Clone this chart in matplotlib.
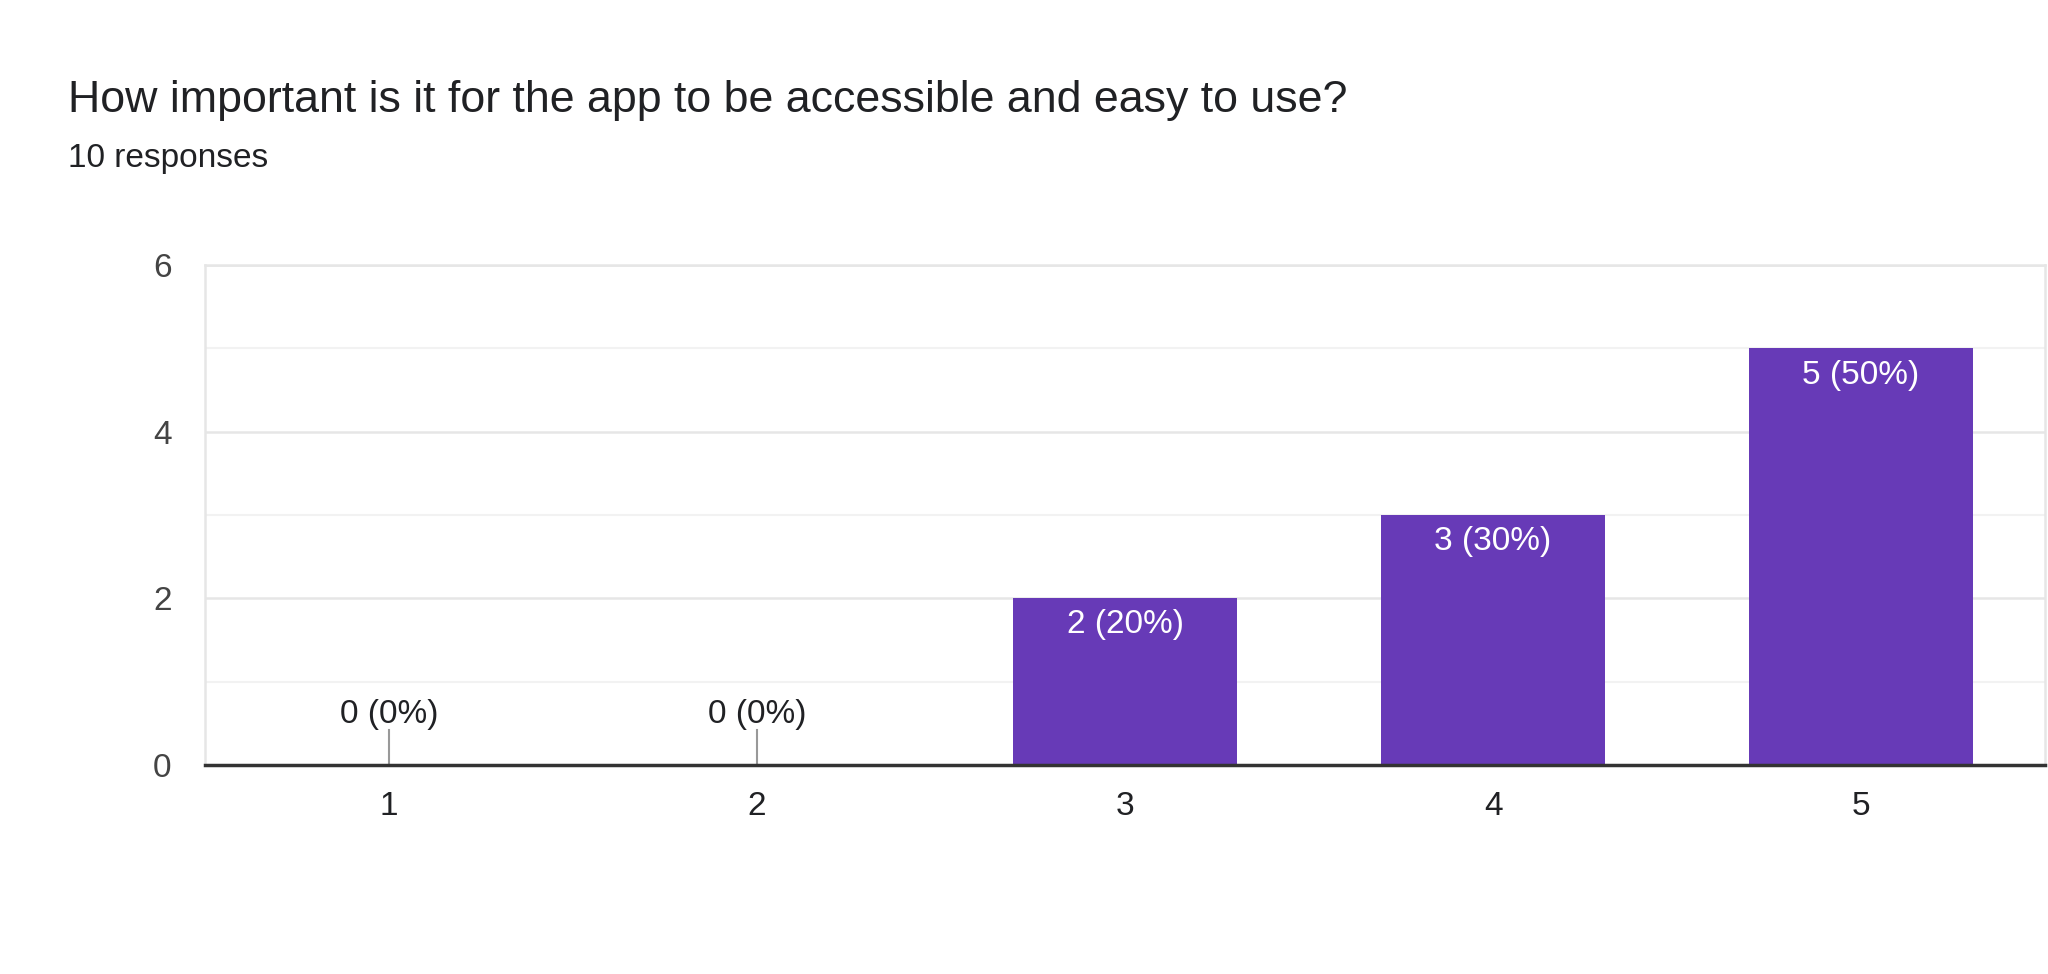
import matplotlib
matplotlib.use("Agg")
import matplotlib.pyplot as plt

plt.rcParams['font.family'] = ['Liberation Sans', 'DejaVu Sans']

title = "How important is it for the app to be accessible and easy to use?"
subtitle = "10 responses"
categories = [1, 2, 3, 4, 5]
counts = [0, 0, 2, 3, 5]
total = 10

bar_color = '#673ab7'

fig = plt.figure(figsize=(20.48, 9.74), dpi=100)
ax = fig.add_axes([0.1001, 0.2146, 0.8985, 0.5133])

fig.text(68 / 2048, 1 - 112 / 974, title, fontsize=32.2, color='#202124', va='baseline')
fig.text(68 / 2048, 1 - 167 / 974, subtitle, fontsize=24, color='#202124', va='baseline')

# grid lines: major every 2, lighter ones in between
for v in [1, 3, 5]:
    ax.axhline(v, color='#f2f2f2', lw=1.5, zorder=0)
for v in [2, 4, 6]:
    ax.axhline(v, color='#e6e6e6', lw=1.8, zorder=0)

ax.bar(categories, counts, width=0.61, color=bar_color, zorder=2)

for x, c in zip(categories, counts):
    label = f"{c} ({round(100 * c / total)}%)"
    if c == 0:
        ax.plot([x, x], [0, 0.42], color='#999999', lw=1.5, zorder=3)
        ax.text(x, 0.6, label, ha='center', va='center', fontsize=24, color='#202124')
    else:
        ax.text(x, c - 0.32, label, ha='center', va='center', fontsize=24, color='white', zorder=4)

ax.set_xlim(0.5, 5.5)
ax.set_ylim(0, 6)
ax.set_yticks([0, 2, 4, 6])
ax.set_xticks(categories)
ax.set_xticklabels([str(c) for c in categories])
ax.tick_params(axis='both', length=0, labelsize=24, colors='#444444')
ax.tick_params(axis='x', pad=19, colors='#202124')
ax.tick_params(axis='y', pad=24)

for side in ['left', 'right', 'top']:
    ax.spines[side].set_color('#e6e6e6')
    ax.spines[side].set_linewidth(1.8)
ax.spines['bottom'].set_color('#333333')
ax.spines['bottom'].set_linewidth(2.5)
ax.spines['bottom'].set_zorder(5)

fig.savefig('out.png', dpi=100, facecolor='white')
